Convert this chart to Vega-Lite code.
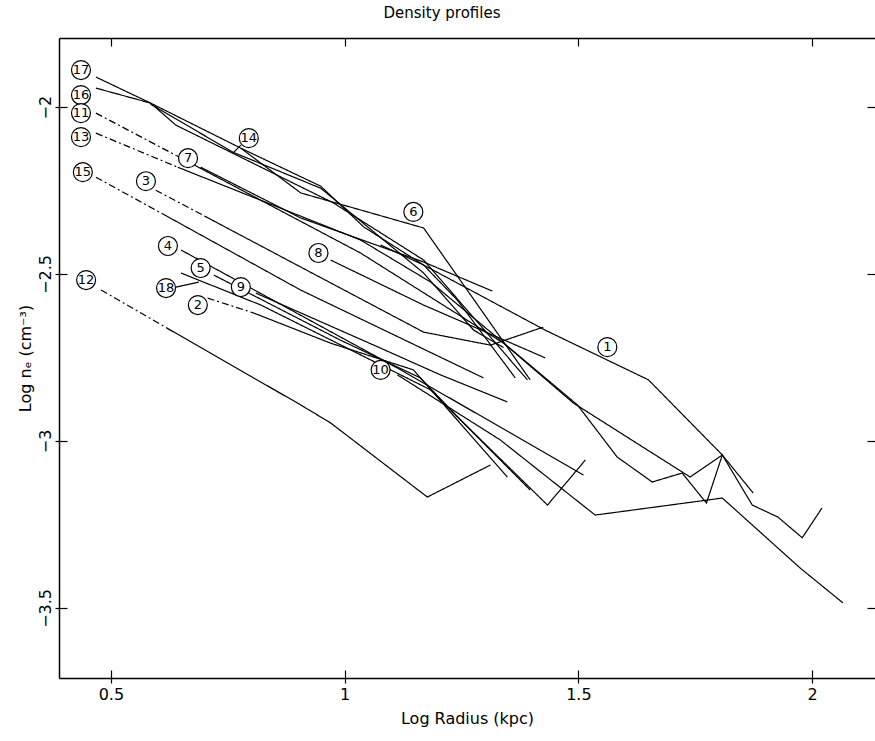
{
  "$schema": "https://vega.github.io/schema/vega-lite/v6.json",
  "width": 816,
  "height": 640,
  "autosize": "none",
  "padding": {"left": 59, "top": 38, "right": 0, "bottom": 63},
  "title": {"text": "Density profiles", "fontSize": 15, "fontWeight": "normal", "font": "DejaVu Sans", "color": "black", "offset": 16, "dx": -25},
  "datasets": {
    "profiles": [
      {"seg": "1", "part": "outer", "r": 1.077, "n": -2.413},
      {"seg": "1", "part": "outer", "r": 1.169, "n": -2.473},
      {"seg": "1", "part": "outer", "r": 1.429, "n": -2.668},
      {"seg": "1", "part": "outer", "r": 1.650, "n": -2.817},
      {"seg": "1", "part": "outer", "r": 1.808, "n": -3.042},
      {"seg": "1", "part": "outer", "r": 1.872, "n": -3.192},
      {"seg": "1", "part": "outer", "r": 1.927, "n": -3.228},
      {"seg": "1", "part": "outer", "r": 1.979, "n": -3.290},
      {"seg": "1", "part": "outer", "r": 2.021, "n": -3.201},
      {"seg": "2a", "part": "inner", "r": 0.707, "n": -2.572},
      {"seg": "2a", "part": "inner", "r": 0.806, "n": -2.617},
      {"seg": "2", "part": "outer", "r": 0.806, "n": -2.617},
      {"seg": "2", "part": "outer", "r": 0.970, "n": -2.707},
      {"seg": "2", "part": "outer", "r": 1.147, "n": -2.787},
      {"seg": "2", "part": "outer", "r": 1.348, "n": -3.108},
      {"seg": "3a", "part": "inner", "r": 0.596, "n": -2.249},
      {"seg": "3a", "part": "inner", "r": 0.700, "n": -2.326},
      {"seg": "3", "part": "outer", "r": 0.700, "n": -2.326},
      {"seg": "3", "part": "outer", "r": 0.906, "n": -2.479},
      {"seg": "3", "part": "outer", "r": 1.169, "n": -2.674},
      {"seg": "3", "part": "outer", "r": 1.312, "n": -2.713},
      {"seg": "3", "part": "outer", "r": 1.425, "n": -2.659},
      {"seg": "4", "part": "outer", "r": 0.650, "n": -2.428},
      {"seg": "4", "part": "outer", "r": 1.120, "n": -2.787},
      {"seg": "4", "part": "outer", "r": 1.511, "n": -3.102},
      {"seg": "5", "part": "outer", "r": 0.720, "n": -2.503},
      {"seg": "5", "part": "outer", "r": 0.991, "n": -2.698},
      {"seg": "5", "part": "outer", "r": 1.162, "n": -2.811},
      {"seg": "5", "part": "outer", "r": 1.248, "n": -2.937},
      {"seg": "5", "part": "outer", "r": 1.434, "n": -3.192},
      {"seg": "5", "part": "outer", "r": 1.515, "n": -3.057},
      {"seg": "6", "part": "outer", "r": 0.778, "n": -2.123},
      {"seg": "6", "part": "outer", "r": 0.906, "n": -2.257},
      {"seg": "6", "part": "outer", "r": 1.169, "n": -2.362},
      {"seg": "6", "part": "outer", "r": 1.397, "n": -2.817},
      {"seg": "7", "part": "outer", "r": 0.692, "n": -2.180},
      {"seg": "7", "part": "outer", "r": 0.906, "n": -2.332},
      {"seg": "7", "part": "outer", "r": 1.169, "n": -2.464},
      {"seg": "7", "part": "outer", "r": 1.316, "n": -2.551},
      {"seg": "8", "part": "outer", "r": 0.970, "n": -2.458},
      {"seg": "8", "part": "outer", "r": 1.169, "n": -2.593},
      {"seg": "8", "part": "outer", "r": 1.429, "n": -2.751},
      {"seg": "9", "part": "outer", "r": 0.810, "n": -2.557},
      {"seg": "9", "part": "outer", "r": 1.077, "n": -2.722},
      {"seg": "9", "part": "outer", "r": 1.205, "n": -2.802},
      {"seg": "9", "part": "outer", "r": 1.348, "n": -2.883},
      {"seg": "10", "part": "outer", "r": 1.113, "n": -2.802},
      {"seg": "10", "part": "outer", "r": 1.333, "n": -2.997},
      {"seg": "10", "part": "outer", "r": 1.536, "n": -3.222},
      {"seg": "10", "part": "outer", "r": 1.808, "n": -3.171},
      {"seg": "10", "part": "outer", "r": 1.974, "n": -3.380},
      {"seg": "10", "part": "outer", "r": 2.066, "n": -3.485},
      {"seg": "11a", "part": "inner", "r": 0.468, "n": -2.018},
      {"seg": "11a", "part": "inner", "r": 0.640, "n": -2.145},
      {"seg": "11", "part": "outer", "r": 0.640, "n": -2.145},
      {"seg": "11", "part": "outer", "r": 1.034, "n": -2.437},
      {"seg": "11", "part": "outer", "r": 1.340, "n": -2.707},
      {"seg": "11", "part": "outer", "r": 1.489, "n": -2.886},
      {"seg": "11", "part": "outer", "r": 1.739, "n": -3.108},
      {"seg": "11", "part": "outer", "r": 1.808, "n": -3.042},
      {"seg": "12a", "part": "inner", "r": 0.479, "n": -2.548},
      {"seg": "12a", "part": "inner", "r": 0.620, "n": -2.662},
      {"seg": "12", "part": "outer", "r": 0.620, "n": -2.662},
      {"seg": "12", "part": "outer", "r": 0.906, "n": -2.892},
      {"seg": "12", "part": "outer", "r": 0.970, "n": -2.946},
      {"seg": "12", "part": "outer", "r": 1.177, "n": -3.168},
      {"seg": "12", "part": "outer", "r": 1.312, "n": -3.072},
      {"seg": "13a", "part": "inner", "r": 0.468, "n": -2.078},
      {"seg": "13a", "part": "inner", "r": 0.643, "n": -2.180},
      {"seg": "13", "part": "outer", "r": 0.643, "n": -2.180},
      {"seg": "13", "part": "outer", "r": 1.034, "n": -2.398},
      {"seg": "13", "part": "outer", "r": 1.184, "n": -2.524},
      {"seg": "13", "part": "outer", "r": 1.333, "n": -2.698},
      {"seg": "13", "part": "outer", "r": 1.498, "n": -2.892},
      {"seg": "13", "part": "outer", "r": 1.583, "n": -3.048},
      {"seg": "13", "part": "outer", "r": 1.658, "n": -3.123},
      {"seg": "13", "part": "outer", "r": 1.722, "n": -3.096},
      {"seg": "13", "part": "outer", "r": 1.774, "n": -3.186},
      {"seg": "13", "part": "outer", "r": 1.808, "n": -3.042},
      {"seg": "13", "part": "outer", "r": 1.874, "n": -3.156},
      {"seg": "14", "part": "outer", "r": 0.585, "n": -1.991},
      {"seg": "14", "part": "outer", "r": 0.761, "n": -2.135},
      {"seg": "14", "part": "outer", "r": 0.949, "n": -2.243},
      {"seg": "14", "part": "outer", "r": 1.169, "n": -2.497},
      {"seg": "14", "part": "outer", "r": 1.276, "n": -2.668},
      {"seg": "14", "part": "outer", "r": 1.340, "n": -2.720},
      {"seg": "15a", "part": "inner", "r": 0.468, "n": -2.210},
      {"seg": "15a", "part": "inner", "r": 0.620, "n": -2.327},
      {"seg": "15", "part": "outer", "r": 0.620, "n": -2.327},
      {"seg": "15", "part": "outer", "r": 0.906, "n": -2.548},
      {"seg": "15", "part": "outer", "r": 1.297, "n": -2.811},
      {"seg": "16", "part": "outer", "r": 0.468, "n": -1.943},
      {"seg": "16", "part": "outer", "r": 0.585, "n": -1.988},
      {"seg": "16", "part": "outer", "r": 0.639, "n": -2.054},
      {"seg": "16", "part": "outer", "r": 0.976, "n": -2.287},
      {"seg": "16", "part": "outer", "r": 1.169, "n": -2.458},
      {"seg": "16", "part": "outer", "r": 1.327, "n": -2.713},
      {"seg": "16", "part": "outer", "r": 1.391, "n": -2.817},
      {"seg": "17", "part": "outer", "r": 0.468, "n": -1.910},
      {"seg": "17", "part": "outer", "r": 0.585, "n": -1.988},
      {"seg": "17", "part": "outer", "r": 0.778, "n": -2.123},
      {"seg": "17", "part": "outer", "r": 0.949, "n": -2.237},
      {"seg": "17", "part": "outer", "r": 1.041, "n": -2.359},
      {"seg": "17", "part": "outer", "r": 1.169, "n": -2.473},
      {"seg": "17", "part": "outer", "r": 1.241, "n": -2.578},
      {"seg": "17", "part": "outer", "r": 1.365, "n": -2.811},
      {"seg": "18", "part": "outer", "r": 0.650, "n": -2.497},
      {"seg": "18", "part": "outer", "r": 0.821, "n": -2.593},
      {"seg": "18", "part": "outer", "r": 1.184, "n": -2.847},
      {"seg": "18", "part": "outer", "r": 1.397, "n": -3.147}
    ],
    "leaders": [
      {"label": "14", "r": 0.778, "n": -2.114},
      {"label": "14", "r": 0.761, "n": -2.138},
      {"label": "18", "r": 0.639, "n": -2.539},
      {"label": "18", "r": 0.688, "n": -2.524}
    ],
    "labels": [
      {"label": "17", "r": 0.436, "n": -1.889},
      {"label": "16", "r": 0.436, "n": -1.964},
      {"label": "11", "r": 0.436, "n": -2.018},
      {"label": "13", "r": 0.436, "n": -2.090},
      {"label": "15", "r": 0.440, "n": -2.195},
      {"label": "3", "r": 0.575, "n": -2.222},
      {"label": "4", "r": 0.622, "n": -2.416},
      {"label": "5", "r": 0.692, "n": -2.482},
      {"label": "18", "r": 0.618, "n": -2.542},
      {"label": "2", "r": 0.686, "n": -2.593},
      {"label": "12", "r": 0.447, "n": -2.518},
      {"label": "9", "r": 0.778, "n": -2.539},
      {"label": "7", "r": 0.665, "n": -2.153},
      {"label": "14", "r": 0.795, "n": -2.093},
      {"label": "6", "r": 1.147, "n": -2.314},
      {"label": "8", "r": 0.944, "n": -2.437},
      {"label": "10", "r": 1.077, "n": -2.787},
      {"label": "1", "r": 1.562, "n": -2.719}
    ]
  },
  "resolve": {"axis": {"x": "independent", "y": "independent"}},
  "layer": [
    {
      "data": {"name": "profiles"},
      "mark": {"type": "line", "color": "black", "strokeWidth": 1.2},
      "encoding": {
        "x": {
          "field": "r", "type": "quantitative",
          "scale": {"domain": [0.389, 2.1346], "nice": false, "zero": false},
          "axis": {"orient": "bottom", "values": [0.5, 1, 1.5, 2], "format": "~g", "domain": true, "tickSize": 5, "labelPadding": 3, "title": "Log Radius (kpc)", "titlePadding": 8}
        },
        "y": {
          "field": "n", "type": "quantitative",
          "scale": {"domain": [-3.71, -1.793], "nice": false, "zero": false},
          "axis": {"orient": "left", "values": [-2, -2.5, -3, -3.5], "format": "~g", "domain": true, "tickSize": 4, "labelPadding": 2, "labelAngle": -90, "labelAlign": "center", "labelBaseline": "bottom", "title": "Log nₑ (cm⁻³)", "titlePadding": 4}
        },
        "detail": {"field": "seg"},
        "strokeDash": {
          "field": "part", "type": "nominal",
          "scale": {"domain": ["inner", "outer"], "range": [[7, 3, 2, 3], [1, 0]]},
          "legend": null
        }
      }
    },
    {
      "data": {"name": "leaders"},
      "mark": {"type": "line", "color": "black", "strokeWidth": 1.2},
      "encoding": {
        "x": {
          "field": "r", "type": "quantitative",
          "axis": {"orient": "bottom", "values": [0.5, 1, 1.5, 2], "tickSize": -8, "labels": false, "domain": false, "title": null}
        },
        "y": {
          "field": "n", "type": "quantitative",
          "axis": {"orient": "left", "values": [-2, -2.5, -3, -3.5], "tickSize": -8, "labels": false, "domain": false, "title": null}
        },
        "detail": {"field": "label"}
      }
    },
    {
      "data": {"name": "labels"},
      "mark": {"type": "point", "shape": "circle", "size": 360, "filled": true, "fill": "white", "stroke": "black", "strokeWidth": 1.2, "opacity": 1},
      "encoding": {
        "x": {"field": "r", "type": "quantitative", "axis": null},
        "y": {"field": "n", "type": "quantitative", "axis": null}
      }
    },
    {
      "data": {"name": "labels"},
      "mark": {"type": "text", "fontSize": 13, "font": "DejaVu Sans", "color": "black", "baseline": "middle", "align": "center"},
      "encoding": {
        "x": {
          "field": "r", "type": "quantitative",
          "axis": {"orient": "top", "values": [0.5, 1, 1.5, 2], "tickSize": -8, "labels": false, "domain": true, "title": null}
        },
        "y": {
          "field": "n", "type": "quantitative",
          "axis": {"orient": "right", "values": [-2, -2.5, -3, -3.5], "tickSize": -8, "labels": false, "domain": false, "title": null}
        },
        "text": {"field": "label"}
      }
    }
  ],
  "config": {
    "view": {"stroke": null},
    "font": "DejaVu Sans",
    "axis": {
      "grid": false,
      "domainColor": "black",
      "domainWidth": 1.5,
      "tickColor": "black",
      "tickWidth": 1.2,
      "labelColor": "black",
      "labelFont": "DejaVu Sans",
      "labelFontSize": 16,
      "titleColor": "black",
      "titleFont": "DejaVu Sans",
      "titleFontSize": 16,
      "titleFontWeight": "normal"
    }
  }
}
